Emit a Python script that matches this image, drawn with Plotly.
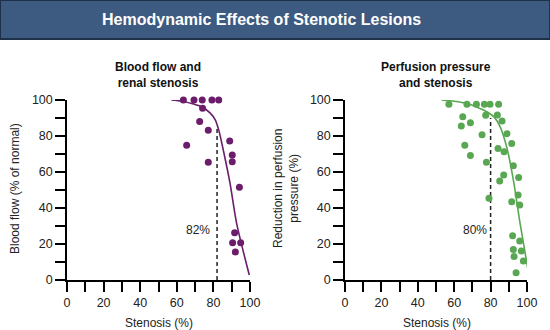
import plotly.graph_objects as go

# ---------------- data ----------------
flow_stenosis = [63.6, 69.4, 73.9, 79.2, 82.9, 74.1, 72.5, 77.2, 65.4, 77.2, 88.9, 90.3, 90.3, 94.2, 91.6, 90.5, 94.9, 92.0]
flow_values   = [100, 100, 100, 100, 100, 95.4, 88.0, 83.2, 74.8, 65.4, 77.2, 69.4, 65.7, 51.5, 26.3, 20.7, 20.7, 15.6]

flow_curve_x = [57, 63, 69, 74, 78, 81, 83, 85.4, 89.1, 92.7, 99.6]
flow_curve_y = [100, 99.3, 97.8, 96, 93, 89, 83, 72.2, 53.7, 31.5, 2.8]

press_stenosis = [57.1, 67.0, 72.2, 76.6, 79.7, 84.4, 64.7, 63.9, 68.9, 77.3, 83.7, 86.3, 75.3, 89.0, 65.8, 68.9,
                  91.6, 84.1, 87.4, 77.7, 92.5, 87.2, 85.0, 95.4, 79.1, 91.6, 95.1, 96.0, 92.1, 96.0, 92.5, 96.9,
                  92.9, 98.0, 94.0]
press_values   = [97.6, 97.6, 97.6, 97.6, 97.6, 97.6, 90.7, 85.6, 87.4, 91.5, 91.7, 88.3, 80.7, 81.3, 74.8, 69.1,
                  75.9, 73.0, 71.3, 65.4, 63.5, 58.3, 55.0, 57.0, 45.4, 43.5, 47.2, 41.7, 24.6, 21.7, 17.0, 16.1,
                  13.0, 10.6, 4.0]

press_curve_x = [53, 60, 66.9, 72, 77.9, 82, 85.2, 88.8, 92.5, 96.2, 100.4]
press_curve_y = [100, 99.3, 98.1, 96.3, 93.5, 90.5, 85.2, 74, 55.6, 31.5, 6.5]

flow_threshold = 82
flow_threshold_top = 85
press_threshold = 80
press_threshold_top = 90

ticks_major = [0, 20, 40, 60, 80, 100]

main_title = "Hemodynamic Effects of Stenotic Lesions"
left_title = "Blood flow and<br>renal stenosis"
right_title = "Perfusion pressure<br>and stenosis"
left_ytitle = "Blood flow (% of normal)"
right_ytitle = "Reduction in perfusion<br>pressure (%)"
xtitle = "Stenosis (%)"

# ---------------- style ----------------
W, H = 550, 330
FONT = "Liberation Sans, Arial, Helvetica, sans-serif"
PURPLE = "#6b1d6c"
GREEN = "#5aa753"

def px(xp):
    return xp / W

def py(yp):
    return 1 - yp / H

fig = go.Figure()

# left panel
fig.add_trace(go.Scatter(x=flow_curve_x, y=flow_curve_y, mode="lines", line=dict(color=PURPLE, width=1.6, shape="spline", smoothing=0.8),
                         xaxis="x", yaxis="y", cliponaxis=False, hoverinfo="skip"))
fig.add_trace(go.Scatter(x=[flow_threshold, flow_threshold], y=[0, flow_threshold_top], mode="lines",
                         line=dict(color="#222222", width=1.5, dash="4px,3px"), xaxis="x", yaxis="y"))
fig.add_trace(go.Scatter(x=flow_stenosis, y=flow_values, mode="markers", marker=dict(color=PURPLE, size=7),
                         xaxis="x", yaxis="y", cliponaxis=False))

# right panel
fig.add_trace(go.Scatter(x=press_curve_x, y=press_curve_y, mode="lines", line=dict(color=GREEN, width=1.6, shape="spline", smoothing=0.8),
                         xaxis="x2", yaxis="y2", cliponaxis=False, hoverinfo="skip"))
fig.add_trace(go.Scatter(x=[press_threshold, press_threshold], y=[0, press_threshold_top], mode="lines",
                         line=dict(color="#222222", width=1.5, dash="4px,3px"), xaxis="x2", yaxis="y2"))
fig.add_trace(go.Scatter(x=press_stenosis, y=press_values, mode="markers", marker=dict(color=GREEN, size=7),
                         xaxis="x2", yaxis="y2", cliponaxis=False))

def axis(domain, anchor):
    return dict(domain=domain, anchor=anchor, range=[0, 100], tickmode="array", tickvals=ticks_major,
                ticks="outside", ticklen=10, tickwidth=1.5, tickcolor="black", automargin=False,
                showline=True, linecolor="black", linewidth=1.5, showgrid=False, zeroline=False,
                tickfont=dict(family=FONT, size=12.5, color="#222"),
                minor=dict(dtick=10, tick0=0, ticks="outside", ticklen=10, tickwidth=1.5, tickcolor="black", showgrid=False),
                fixedrange=True)

ydom = [py(280), py(100)]
fig.update_layout(
    width=W, height=H, autosize=False,
    margin=dict(l=0, r=0, t=0, b=0),
    paper_bgcolor="white", plot_bgcolor="white",
    showlegend=False,
    xaxis=axis([px(67), px(250)], "y"),
    yaxis=axis(ydom, "x"),
    xaxis2=axis([px(345), px(527)], "y2"),
    yaxis2=axis(ydom, "x2"),
    font=dict(family=FONT, color="#222"),
)

# title band
fig.add_shape(type="rect", xref="paper", yref="paper", x0=0, x1=1, y0=py(39), y1=1,
              fillcolor="#3d5a80", line=dict(color="#1f3049", width=2), layer="below")

ann = []
ann.append(dict(text=f"<b>{main_title}</b>", x=px(261), y=py(19.5), xref="paper", yref="paper",
                showarrow=False, font=dict(family=FONT, size=16, color="white"), xanchor="center", yanchor="middle"))
ann.append(dict(text=f"<b>{left_title}</b>", x=px(158), y=py(74.5), xref="paper", yref="paper",
                showarrow=False, font=dict(family=FONT, size=12, color="#111"), xanchor="center", yanchor="middle"))
ann.append(dict(text=f"<b>{right_title}</b>", x=px(436), y=py(74.5), xref="paper", yref="paper",
                showarrow=False, font=dict(family=FONT, size=12, color="#111"), xanchor="center", yanchor="middle"))
ann.append(dict(text=xtitle, x=px(159), y=py(323), xref="paper", yref="paper",
                showarrow=False, font=dict(family=FONT, size=12, color="#222"), xanchor="center", yanchor="middle"))
ann.append(dict(text=xtitle, x=px(437), y=py(323), xref="paper", yref="paper",
                showarrow=False, font=dict(family=FONT, size=12, color="#222"), xanchor="center", yanchor="middle"))
ann.append(dict(text=left_ytitle, x=px(15), y=py(189), xref="paper", yref="paper", textangle=-90,
                showarrow=False, font=dict(family=FONT, size=12, color="#222"), xanchor="center", yanchor="middle"))
ann.append(dict(text=right_ytitle, x=px(286), y=py(189), xref="paper", yref="paper", textangle=-90,
                showarrow=False, font=dict(family=FONT, size=12, color="#222"), xanchor="center", yanchor="middle"))
ann.append(dict(text=f"{flow_threshold}%", x=flow_threshold, y=28, xref="x", yref="y",
                showarrow=False, font=dict(family=FONT, size=12, color="#222"), xanchor="right", yanchor="middle", xshift=-5))
ann.append(dict(text=f"{press_threshold}%", x=press_threshold, y=28, xref="x2", yref="y2",
                showarrow=False, font=dict(family=FONT, size=12, color="#222"), xanchor="right", yanchor="middle", xshift=-2))
fig.update_layout(annotations=ann)

fig.write_html("out.html")
